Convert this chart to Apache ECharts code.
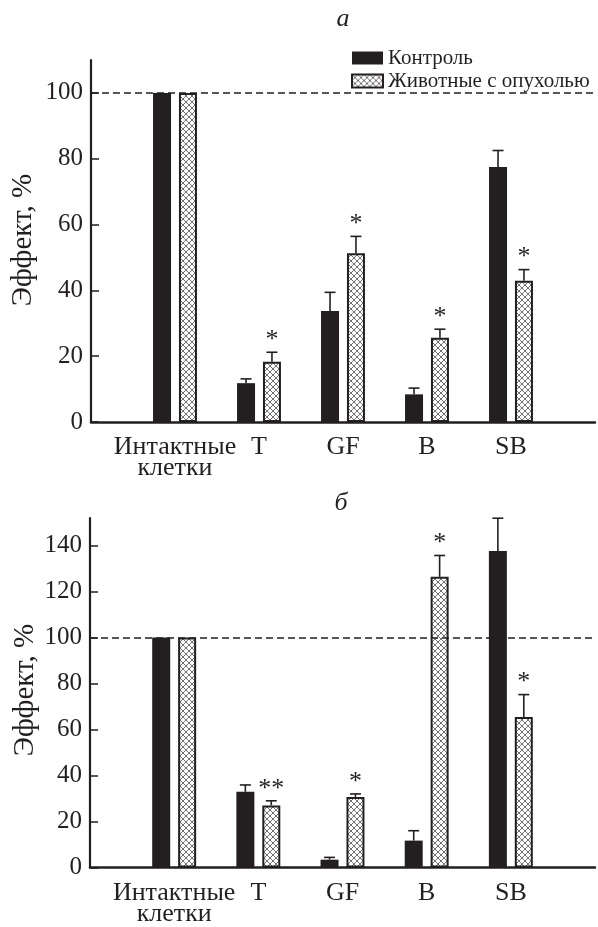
<!DOCTYPE html>
<html><head><meta charset="utf-8">
<script src="https://cdn.jsdelivr.net/npm/echarts@6/dist/echarts.min.js"></script>
<style>html,body{margin:0;padding:0;background:#fff}#c{width:598px;height:927px}</style>
</head><body><div id="c"></div>
<script>
// ---------- data ----------
const categories = ['Интактные\nклетки', 'T', 'GF', 'B', 'SB'];
const seriesNames = ['Контроль', 'Животные с опухолью'];
const panelTitles = ['а', 'б'];
const yNameText = 'Эффект, %';

const yTicksA = [0, 20, 40, 60, 80, 100];
const controlA = [100, 11.8, 33.7, 8.4, 77.5];
const controlErrA = [0, 1.3, 5.7, 1.9, 5.0];
const tumorA = [100, 18.3, 51.3, 25.6, 42.9];
const tumorErrA = [0, 2.9, 5.1, 2.6, 3.4];
const starsA = ['', '*', '*', '*', '*'];

const yTicksB = [0, 20, 40, 60, 80, 100, 120, 140];
const controlB = [100, 32.9, 3.4, 11.7, 137.6];
const controlErrB = [0, 3.0, 1.0, 4.3, 14.3];
const tumorB = [100, 27.0, 30.7, 126.4, 65.4];
const tumorErrB = [0, 2.0, 1.3, 9.3, 9.8];
const starsB = ['', '**', '*', '*', '*'];

const refLine = 100;

// ---------- styling ----------
const INK = '#231f20';
const FONT = "'Liberation Serif', 'Times New Roman', serif";
const BAR_W = 18, BAR_GAP = '44%';

function makeHatch() {
  const s = 6;
  const c = document.createElement('canvas'); c.width = s; c.height = s;
  const g = c.getContext('2d');
  g.fillStyle = '#ffffff'; g.fillRect(0, 0, s, s);
  g.strokeStyle = '#606060'; g.lineWidth = 0.9;
  g.beginPath();
  g.moveTo(-1, -1); g.lineTo(s + 1, s + 1);
  g.moveTo(s + 1, -1); g.lineTo(-1, s + 1);
  g.stroke();
  return c;
}
const hatch = { image: makeHatch(), repeat: 'repeat' };

const axisCats = [''].concat(categories, ['']);
const pad = arr => [null].concat(arr, [null]);

function errSeries(gridIdx, ctrl, ctrlErr, tum, tumErr, stars) {
  const data = [], starList = [];
  ctrl.forEach((v, i) => { data.push([i + 1, v, ctrlErr[i], 0]); starList.push(''); });
  tum.forEach((v, i) => { data.push([i + 1, v, tumErr[i], 1]); starList.push(stars[i]); });
  return {
    type: 'custom', xAxisIndex: gridIdx, yAxisIndex: gridIdx, z: 5, clip: false,
    silent: true,
    data: data,
    renderItem: function (params, api) {
      const k = api.value(0), v = api.value(1), e = api.value(2), side = api.value(3);
      const layout = api.barLayout({ count: 2, barWidth: BAR_W, barGap: BAR_GAP });
      const off = layout[side].offsetCenter;
      const p0 = api.coord([k, v]);
      const p1 = api.coord([k, v + e]);
      const x = p0[0] + off;
      const ch = [];
      if (e > 0) {
        ch.push({ type: 'line', shape: { x1: x, y1: p0[1], x2: x, y2: p1[1] }, style: { stroke: INK, lineWidth: 1.6 } });
        ch.push({ type: 'line', shape: { x1: x - 5.5, y1: p1[1], x2: x + 5.5, y2: p1[1] }, style: { stroke: INK, lineWidth: 1.6 } });
      }
      const st = starList[params.dataIndex];
      if (st) {
        ch.push({ type: 'text', style: { text: st, x: x, y: p1[1] - 12, align: 'center', verticalAlign: 'middle',
          font: '26px ' + FONT, fill: INK } });
      }
      return { type: 'group', children: ch };
    }
  };
}

function barSeries(gridIdx, name, vals, isTumor) {
  const s = {
    type: 'bar', name: name, xAxisIndex: gridIdx, yAxisIndex: gridIdx,
    data: pad(vals), barWidth: BAR_W, barGap: BAR_GAP, silent: true,
    itemStyle: isTumor ? { color: hatch, borderColor: INK, borderWidth: 2 } : { color: INK }
  };
  if (!isTumor) {
    s.markLine = {
      silent: true, symbol: 'none', label: { show: false },
      lineStyle: { color: INK, type: [7, 4], width: 1.7 },
      data: [{ yAxis: refLine }]
    };
  }
  return s;
}

function xAxis(gridIdx) {
  return {
    type: 'category', gridIndex: gridIdx, data: axisCats, boundaryGap: false,
    axisLine: { lineStyle: { color: INK, width: 2.5 } },
    axisTick: { show: false },
    axisLabel: { interval: 0, color: INK, fontFamily: FONT, fontSize: 26, lineHeight: 21, margin: 15 },
    splitLine: { show: false }
  };
}
function yAxis(gridIdx, max, ticks) {
  return {
    type: 'value', gridIndex: gridIdx, min: 0, max: max, interval: 20,
    axisLine: { show: true, lineStyle: { color: INK, width: 2.2 } },
    axisTick: { show: true, inside: true, length: 8, lineStyle: { color: INK, width: 1.5 }, customValues: ticks },
    axisLabel: { color: INK, fontFamily: FONT, fontSize: 25, margin: 8, customValues: ticks },
    splitLine: { show: false }
  };
}

const chart = echarts.init(document.getElementById('c'), null, { renderer: 'canvas' });
chart.setOption({
  animation: false,
  backgroundColor: '#fff',
  grid: [
    { left: 91, right: 1, top: 60, height: 362 },
    { left: 90, right: 3, top: 518, height: 354.3 }
  ],
  xAxis: [xAxis(0), xAxis(1)],
  yAxis: [yAxis(0, 110, yTicksA), yAxis(1, 152, yTicksB)],
  legend: {
    orient: 'vertical', left: 351, top: 47, padding: 0, icon: 'rect',
    itemWidth: 31, itemHeight: 13, itemGap: 1,
    data: seriesNames,
    textStyle: { color: INK, fontFamily: FONT, fontSize: 21, lineHeight: 22, padding: [0, 0, 0, 0] },
    selectedMode: false
  },
  graphic: [
    { type: 'text', x: 343, y: 19, style: { text: panelTitles[0], align: 'center', verticalAlign: 'middle', font: 'italic 26px ' + FONT, fill: INK } },
    { type: 'text', x: 341, y: 503, style: { text: panelTitles[1], align: 'center', verticalAlign: 'middle', font: 'italic 26px ' + FONT, fill: INK } },
    { type: 'text', x: 23, y: 240, rotation: Math.PI / 2, style: { text: yNameText, align: 'center', verticalAlign: 'middle', font: '29px ' + FONT, fill: INK } },
    { type: 'text', x: 25, y: 690, rotation: Math.PI / 2, style: { text: yNameText, align: 'center', verticalAlign: 'middle', font: '29px ' + FONT, fill: INK } }
  ],
  series: [
    barSeries(0, seriesNames[0], controlA, false),
    barSeries(0, seriesNames[1], tumorA, true),
    errSeries(0, controlA, controlErrA, tumorA, tumorErrA, starsA),
    barSeries(1, seriesNames[0], controlB, false),
    barSeries(1, seriesNames[1], tumorB, true),
    errSeries(1, controlB, controlErrB, tumorB, tumorErrB, starsB)
  ]
});
</script></body></html>
